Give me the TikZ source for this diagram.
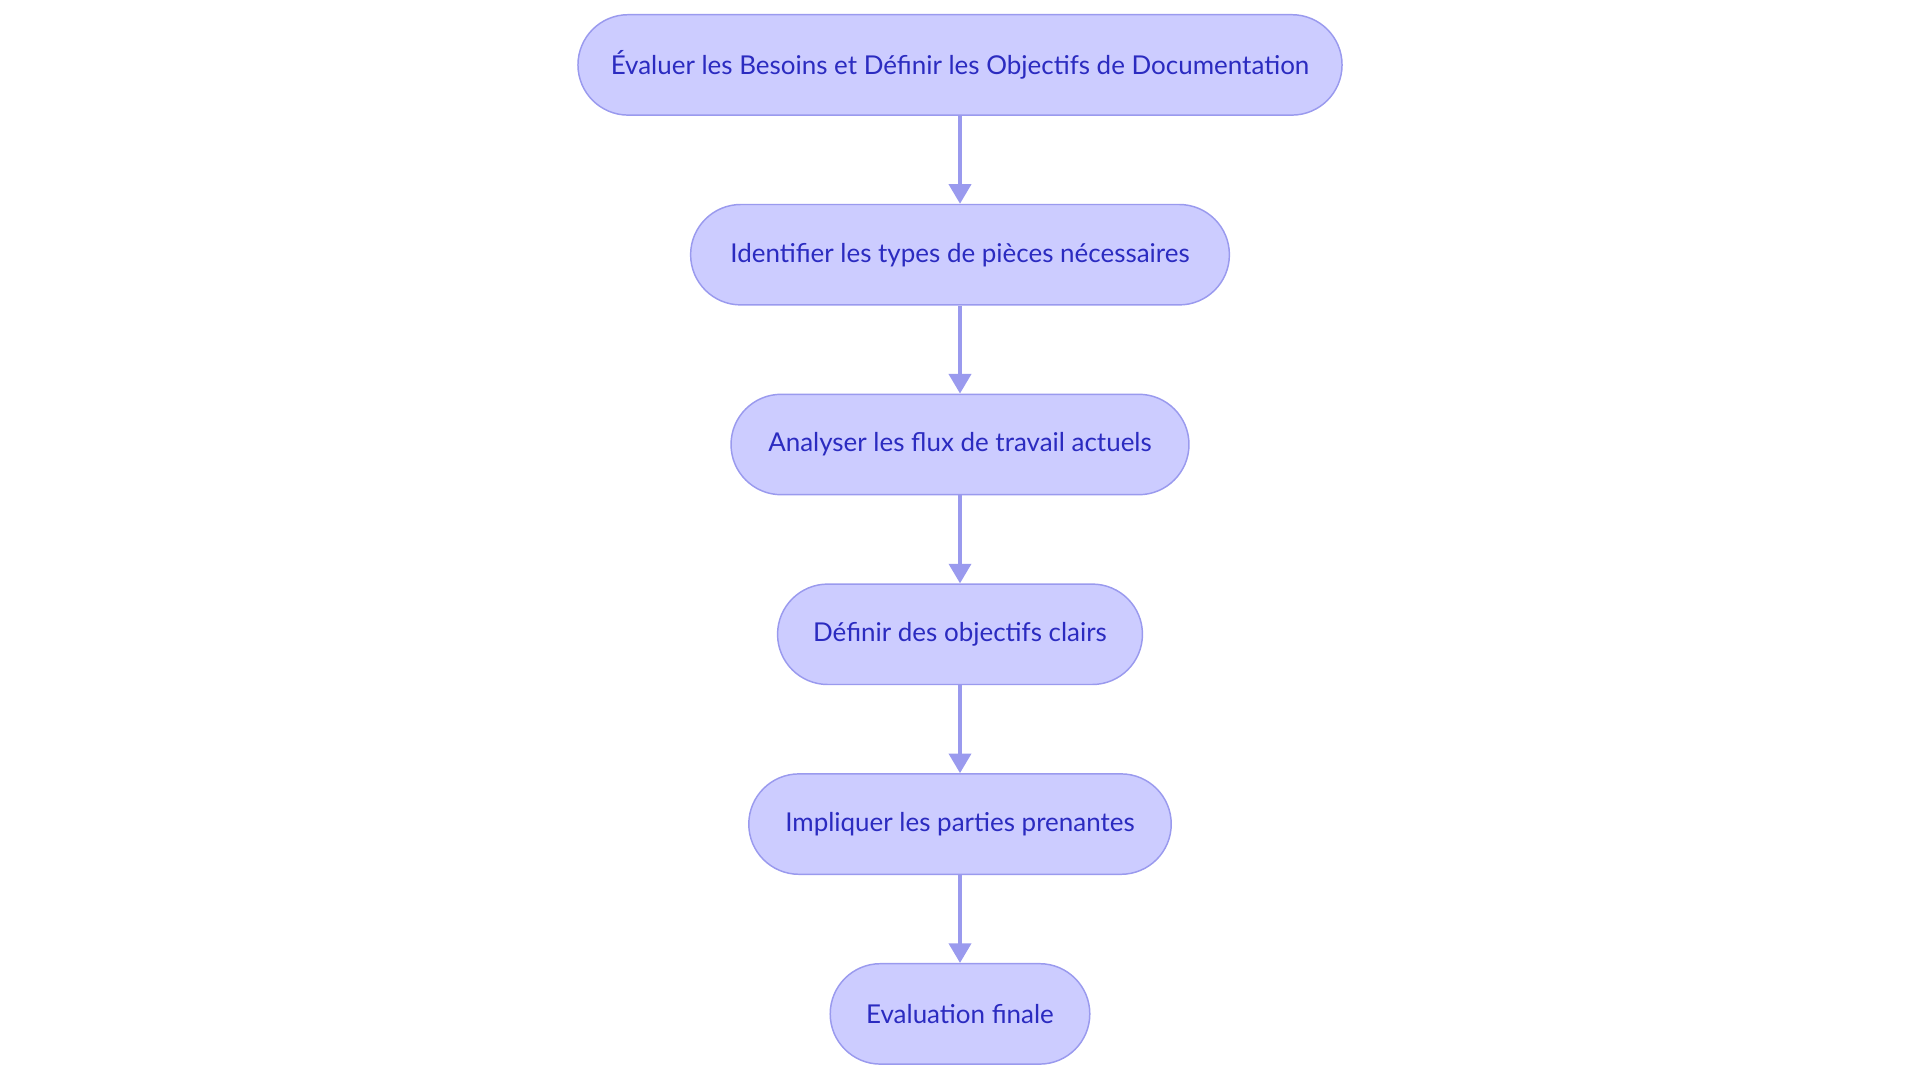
\documentclass[tikz,border=0pt]{standalone}
\usepackage{fontspec}
\setmainfont{Lato}
\usetikzlibrary{arrows.meta}
\definecolor{nfill}{HTML}{CCCCFF}
\definecolor{nline}{HTML}{9A9AEE}
\definecolor{ntext}{HTML}{2B2BC0}
\begin{document}
\begin{tikzpicture}[x=0.5pt,y=-0.5pt,
  box/.style={draw=nline,line width=0.6pt,fill=nfill,rounded corners=20.5pt,minimum height=41pt,inner sep=0pt,text=ntext,font=\fontsize{10.6}{12}\selectfont},
  arr/.style={draw=nline,line width=1.5pt,-{Triangle[width=9pt,length=8pt]}}]
\useasboundingbox (0,0) rectangle (1568,884);
\node[box,minimum width=312pt] (a) at (784,53) {Évaluer les Besoins et Définir les Objectifs de Documentation};
\node[box,minimum width=220pt] (b) at (784,208) {Identifier les types de pièces nécessaires};
\node[box,minimum width=187pt] (c) at (784,363) {Analyser les flux de travail actuels};
\node[box,minimum width=149pt] (d) at (784,518) {Définir des objectifs clairs};
\node[box,minimum width=172.5pt] (e) at (784,673) {Impliquer les parties prenantes};
\node[box,minimum width=106pt] (f) at (784,828) {Evaluation finale};
\draw[arr] (a) -- (b);
\draw[arr] (b) -- (c);
\draw[arr] (c) -- (d);
\draw[arr] (d) -- (e);
\draw[arr] (e) -- (f);
\end{tikzpicture}
\end{document}
